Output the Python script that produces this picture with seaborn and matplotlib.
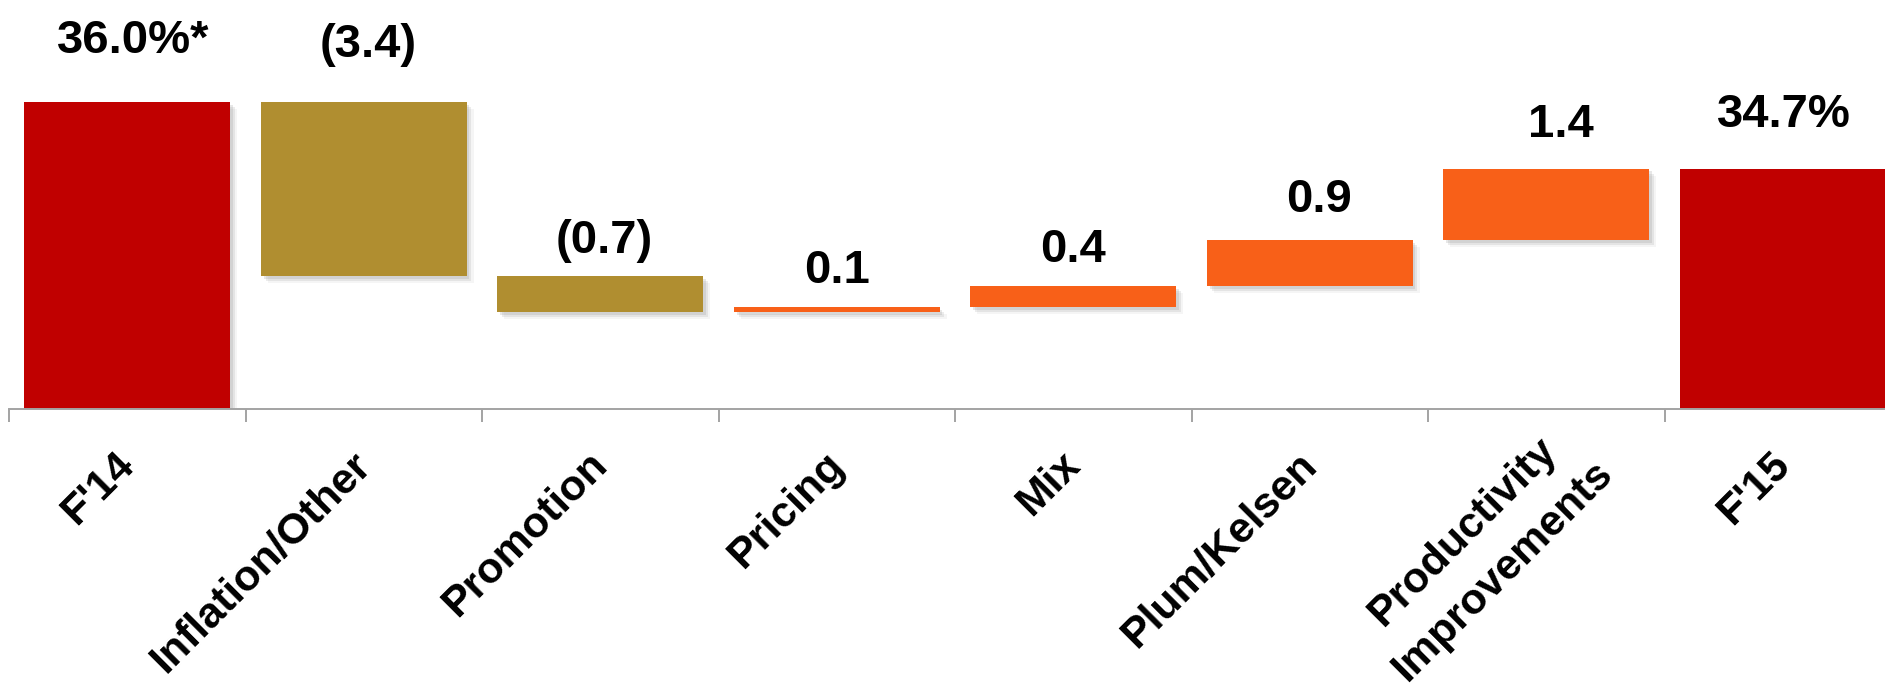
import numpy as np
import pandas as pd
import matplotlib
matplotlib.use("Agg")
import matplotlib.pyplot as plt
import matplotlib.patheffects as pe
import matplotlib.transforms as mtransforms
import seaborn as sns

# ---- data -------------------------------------------------------------
categories = ["F'14", "Inflation/Other", "Promotion", "Pricing", "Mix",
              "Plum/Kelsen", "Productivity\nImprovements", "F'15"]
start_margin = 36.0
end_margin = 34.7
changes = [-3.4, -0.7, 0.1, 0.4, 0.9, 1.4]
value_labels = ["36.0%*", "(3.4)", "(0.7)", "0.1", "0.4", "0.9", "1.4", "34.7%"]

# ---- waterfall geometry ----------------------------------------------
levels = np.concatenate([[start_margin], start_margin + np.cumsum(changes)])
bottoms = np.array([0.0] + list(np.minimum(levels[:-1], levels[1:])) + [0.0])
heights = np.array([start_margin] + list(np.abs(changes)) + [end_margin])
tops = bottoms + heights
kinds = ["total"] + ["down" if c < 0 else "up" for c in changes] + ["total"]

df = pd.DataFrame({"category": categories, "height": heights, "kind": kinds})

# ---- style ------------------------------------------------------------
palette = {"total": "#C00000", "down": "#B08E30", "up": "#F86018"}
axis_grey = "#A3A3A3"
label_gap_px = [49, 45, 23, 24, 24, 28, 32, 42]
label_dx_px = [6, 4, 4, 0, 0, 9, 15, 1]

sns.set_theme(style="white")
plt.rcParams["font.family"] = ["Liberation Sans", "DejaVu Sans"]

fig = plt.figure(figsize=(18.85, 6.87), dpi=100)
W, H = 1885, 687
ax = fig.add_axes([9 / W, 1 - 409 / H, 1892 / W, 409 / H])

sns.barplot(data=df, x="category", y="height", order=categories,
            bottom=bottoms, width=0.87, color=palette["total"],
            saturation=1, errorbar=None, ax=ax)

shadow = [
    pe.SimplePatchShadow(offset=(2.0, -2.0), shadow_rgbFace="#7f7f7f", alpha=0.18),
    pe.SimplePatchShadow(offset=(3.5, -3.5), shadow_rgbFace="#7f7f7f", alpha=0.14),
    pe.SimplePatchShadow(offset=(5.0, -5.0), shadow_rgbFace="#9f9f9f", alpha=0.10),
    pe.Normal(),
]
for patch, kind in zip(ax.patches, kinds):
    patch.set_facecolor(palette[kind])
    patch.set_edgecolor("none")
    patch.set_linewidth(0)
    patch.set_path_effects(shadow)

# value labels above each bar
for i, (top, text) in enumerate(zip(tops, value_labels)):
    ax.annotate(text, xy=(i, top), xytext=(label_dx_px[i], label_gap_px[i]),
                textcoords="offset pixels", ha="center", va="baseline",
                fontsize=34, fontweight="bold", color="black")

ax.set_xlim(-0.5, len(categories) - 0.5)
ax.set_ylim(30, 38)
ax.set_yticks([])
ax.set_xlabel("")
ax.set_ylabel("")

# category boundary ticks
ax.set_xticks(np.arange(-0.5, len(categories), 1.0), minor=True)
ax.tick_params(axis="x", which="minor", length=9.5, width=1.4,
               color=axis_grey, direction="out", bottom=True)
ax.tick_params(axis="x", which="major", length=0, pad=36, bottom=True,
               labelcolor="black")
ax.set_xticks(range(len(categories)))
ax.set_xticklabels(categories, rotation=45, ha="right", va="center",
                   rotation_mode="anchor", fontsize=31, fontweight="bold",
                   color="black", multialignment="center", linespacing=1.5)
for lab in ax.get_xticklabels():
    if "\n" in lab.get_text():
        dx, dy = 40, 11
    else:
        dx, dy = 1, 0
    shift = mtransforms.ScaledTranslation(dx / 100, dy / 100, fig.dpi_scale_trans)
    lab.set_transform(lab.get_transform() + shift)

sns.despine(ax=ax, left=True)
ax.spines["bottom"].set_color(axis_grey)
ax.spines["bottom"].set_linewidth(1.4)
ax.spines["bottom"].set_zorder(5)

fig.savefig("out.png", dpi=100)
